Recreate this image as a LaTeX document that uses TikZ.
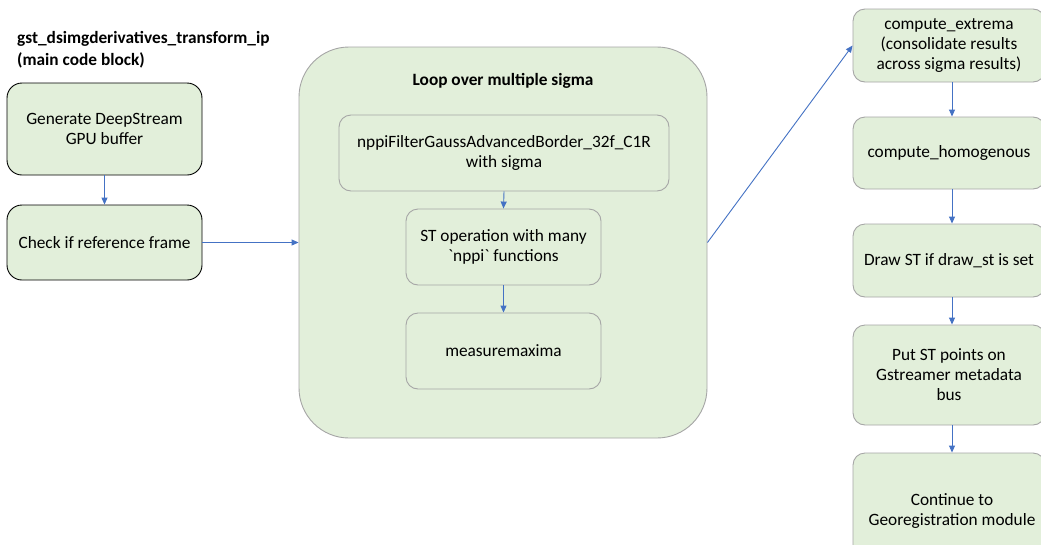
\documentclass[tikz,border=0pt]{standalone}
\usepackage{fontspec}
\setmainfont{Carlito}
\usetikzlibrary{arrows.meta}
\definecolor{boxgreen}{HTML}{E2EFDA}
\definecolor{arrblue}{HTML}{4472C4}
\definecolor{graybd}{HTML}{A6A6A6}
\tikzset{
  lbox/.style={draw=black, line width=0.9pt, fill=boxgreen, rounded corners=15pt, align=center, font=\fontsize{17.3}{20}\selectfont, inner sep=0pt},
  gbox/.style={draw=graybd, line width=0.9pt, fill=boxgreen, rounded corners=12pt, align=center, font=\fontsize{17.3}{20}\selectfont, inner sep=0pt},
  loopbox/.style={draw=graybd, line width=0.9pt, fill=boxgreen, rounded corners=50pt, inner sep=0pt},
  arr/.style={draw=arrblue, line width=0.9pt, -{Triangle[length=7pt,width=6pt]}},
}
\begin{document}
\begin{tikzpicture}[x=1pt,y=-1pt]
\useasboundingbox[fill=white] (0,0) rectangle (1041,544);
% title
\node[anchor=north west, align=left, font=\fontsize{17.3}{22}\selectfont\bfseries, inner sep=0pt] (title) at (17,31) {gst\_dsimgderivatives\_transform\_ip\\(main code block)};
% left boxes
\node[lbox, minimum width=195, minimum height=92] (gen) at (104.5,129) {Generate DeepStream\\GPU buffer};
\node[lbox, minimum width=195, minimum height=75] (chk) at (104.5,242.5) {Check if reference frame};
% loop box
\node[loopbox, minimum width=408, minimum height=391] (loop) at (503,242.5) {};
\node[font=\fontsize{17.3}{20}\selectfont\bfseries, inner sep=0pt] (looptitle) at (503,81) {Loop over multiple sigma};
\node[gbox, minimum width=330, minimum height=76] (gauss) at (504,153) {nppiFilterGaussAdvancedBorder\_32f\_C1R\\with sigma};
\node[gbox, minimum width=195, minimum height=76] (st) at (503.5,247) {ST operation with many\\\textasciigrave nppi\textasciigrave{} functions};
\node[gbox, minimum width=195, minimum height=76] (meas) at (503.5,351) {measuremaxima};
% right column
\node[gbox, minimum width=192, minimum height=73] (ext) at (949,45.5) {compute\_extrema\\(consolidate results\\across sigma results)};
\node[gbox, minimum width=192, minimum height=72] (hom) at (949,153) {compute\_homogenous};
\node[gbox, minimum width=192, minimum height=73] (draw) at (949,260.5) {Draw ST if draw\_st is set};
\node[gbox, minimum width=192, minimum height=100] (put) at (949,375) {Put ST points on\\Gstreamer metadata\\bus};
\node[gbox, minimum width=192, minimum height=105] (cont) at (949,505.5) {};
\node[align=center, font=\fontsize{17.3}{20}\selectfont, inner sep=0pt] (conttext) at (952,511) {Continue to\\Georegistration module};
% arrows
\draw[arr] (gen.south) -- (chk.north);
\draw[arr] (chk.east) -- (loop.west |- chk.east);
\draw[arr] (gauss.south) -- (st.north);
\draw[arr] (st.south) -- (meas.north);
\draw[arr] (loop.east |- chk.east) -- (ext.west);
\draw[arr] ([xshift=3pt]ext.south) -- ([xshift=3pt]hom.north);
\draw[arr] ([xshift=3pt]hom.south) -- ([xshift=3pt]draw.north);
\draw[arr] ([xshift=3pt]draw.south) -- ([xshift=3pt]put.north);
\draw[arr] ([xshift=3pt]put.south) -- ([xshift=3pt]cont.north);
\end{tikzpicture}
\end{document}
